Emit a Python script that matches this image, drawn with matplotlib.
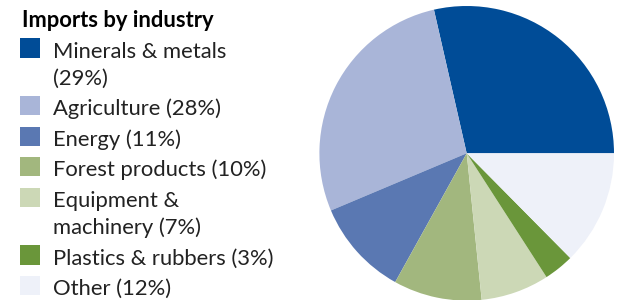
import matplotlib
matplotlib.use("Agg")
import matplotlib.pyplot as plt
from matplotlib.patches import Rectangle

plt.rcParams['font.family'] = ['Lato', 'DejaVu Sans']

title = "Imports by industry"
labels = ["Minerals & metals\n(29%)", "Agriculture (28%)", "Energy (11%)",
          "Forest products (10%)", "Equipment &\nmachinery (7%)",
          "Plastics & rubbers (3%)", "Other (12%)"]
shares = [28.6, 27.8, 10.6, 9.7, 7.5, 3.3, 12.6]
colors = ["#004c97", "#a9b5d8", "#5a78b2", "#a2b77e", "#ccd8b6", "#6a963a", "#eef1f9"]

W, H = 624, 300
fig = plt.figure(figsize=(W / 100, H / 100), dpi=100)

# pie, centre ~ (466.7, 153.3) px, radius ~147 px
cx, cy, r = 466.7, 153.3, 147.3
ax = fig.add_axes([(cx - r) / W, (H - cy - r) / H, 2 * r / W, 2 * r / H])
ax.pie(shares, colors=colors, startangle=0, counterclock=True,
       wedgeprops=dict(linewidth=0))
ax.set_xlim(-1, 1)
ax.set_ylim(-1, 1)
ax.set_aspect("equal")
ax.axis("off")

# legend drawn in pixel space
lax = fig.add_axes([0, 0, 1, 1], zorder=-1)
lax.set_xlim(0, W)
lax.set_ylim(H, 0)
lax.axis("off")

lax.text(21.5, 27, title, fontsize=15.8, fontweight="bold", color="black",
         va="baseline", ha="left")

line_h = 27.2
gap = 3.3
y = 38.3
for lab, col in zip(labels, colors):
    lax.add_patch(Rectangle((20, y), 20, 19.4, facecolor=col, edgecolor="none"))
    lines = lab.split("\n")
    for k, ln in enumerate(lines):
        lax.text(53.3, y + 19.4 + k * line_h, ln, fontsize=15.8,
                 color="#222222", va="baseline", ha="left")
    y += len(lines) * line_h + gap

fig.savefig("out.png", dpi=100)
